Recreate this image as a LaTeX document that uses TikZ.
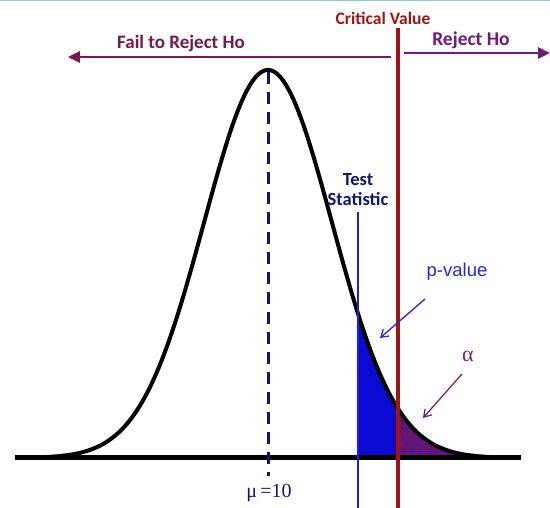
\documentclass[tikz,border=0pt]{standalone}
\usepackage{fontspec}
\setmainfont{Liberation Serif}
\newfontfamily\carl{Carlito}
\newfontfamily\lsans{Liberation Sans}
\usetikzlibrary{arrows.meta}
\definecolor{maroonA}{RGB}{120,25,75}
\definecolor{purpA}{RGB}{115,25,120}
\definecolor{critred}{RGB}{160,20,20}
\definecolor{navyA}{RGB}{20,20,110}
\definecolor{tsblue}{RGB}{30,30,220}
\definecolor{fillblue}{RGB}{10,10,210}
\definecolor{pvblue}{RGB}{40,40,200}
\definecolor{alphap}{RGB}{110,40,120}
\definecolor{purfill}{RGB}{105,20,105}
\definecolor{topline}{RGB}{140,205,225}
\tikzset{
  lbl/.style={inner sep=0pt},
  bigarrow/.style={line width=2.5pt, -{Triangle[length=12pt,width=11pt]}},
  thinarrow/.style={line width=1.3pt, -{Straight Barb[length=7pt,width=9pt]}},
}
\begin{document}
\begin{tikzpicture}[x=1pt,y=-1pt]
\useasboundingbox (0,0) rectangle (550,508);
\fill[white] (0,0) rectangle (550,508);
\draw[topline, line width=1.5pt] (0,0.75) -- (550,0.75);
% fills
\fill[fillblue] (358,458) -- plot[domain=358:398, samples=40] (\x, {458-388*exp(-0.5*((\x-268)/64)^2)}) -- (398,458) -- cycle;
\begin{scope}
\clip (398,458) -- plot[domain=398:490, samples=60] (\x, {458-388*exp(-0.5*((\x-268)/64)^2)}) -- (490,458) -- cycle;
\fill[purfill] (398,400) rectangle (490,460);
\foreach \i in {0,...,11} {
  \foreach \j in {0,...,8} {
    \fill[tsblue] ({403+\i*9+mod(\j,2)*4.5}, {452-\j*7}) circle (1.9);
  }
}
\end{scope}
% baseline
\draw[line width=5pt] (15,458) -- (521,458);
% curve
\draw[line width=4pt, line join=round] plot[domain=20:515, samples=200] (\x, {458-388*exp(-0.5*((\x-268)/64)^2)});
% mean line
\coordinate (mtop) at (268,72);
\coordinate (mbot) at (268,476);
\draw[navyA, line width=3pt, dash pattern=on 12pt off 8pt] (mtop) -- (mbot);
\node[lbl, navyA, font=\fontsize{20}{20}\selectfont] (mu) at (269,493) {μ\,=10};
% test statistic line
\node[lbl, navyA, font=\carl\bfseries\fontsize{18.5}{20}\selectfont, align=center] (ts) at (358,190) {Test\\Statistic};
\coordinate (tsb) at (358,508);
\draw[tsblue, line width=2pt] (358,212) -- (tsb);
% critical line
\node[lbl, critred, font=\carl\bfseries\fontsize{17.5}{18}\selectfont] (cv) at (383,18) {Critical Value};
\coordinate (cvb) at (398,508);
\draw[critred, line width=4pt] (398,28) -- (cvb);
% top arrows
\node[lbl, maroonA, font=\carl\bfseries\fontsize{19}{19}\selectfont] (fr) at (181,43) {Fail to Reject Ho};
\coordinate (fs) at (391,57);
\coordinate (fe) at (68,57);
\draw[maroonA, bigarrow] (fs) -- (fe);
\node[lbl, purpA, font=\carl\bfseries\fontsize{19.5}{19.5}\selectfont] (rh) at (471,40) {Reject Ho};
\coordinate (rs) at (404,53);
\coordinate (re) at (550,53);
\draw[purpA, bigarrow] (rs) -- (re);
% p-value
\node[lbl, pvblue, font=\lsans\fontsize{18.5}{18.5}\selectfont] (pv) at (457,272) {p-value};
\coordinate (pa) at (425,299);
\coordinate (pb) at (380,338);
\draw[pvblue, thinarrow] (pa) -- (pb);
% alpha
\node[lbl, alphap, font=\fontsize{22}{22}\selectfont] (al) at (468,356) {α};
\coordinate (aa) at (462,374);
\coordinate (ab) at (423,418);
\draw[alphap, thinarrow] (aa) -- (ab);
\end{tikzpicture}
\end{document}
